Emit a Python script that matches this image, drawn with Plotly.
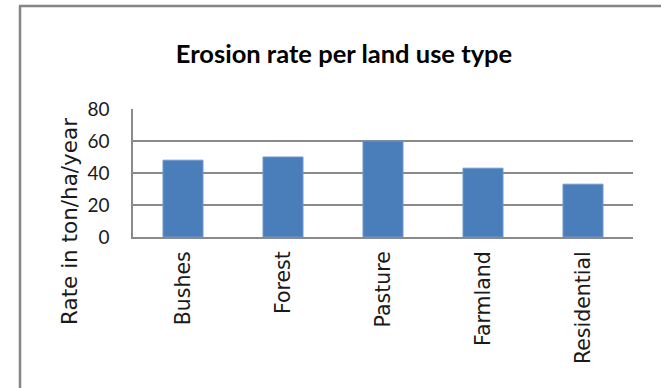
import plotly.graph_objects as go

# Erosion rate (ton/ha/year) for each land use category
land_use = ["Bushes", "Forest", "Pasture", "Farmland", "Residential"]
erosion_rate = [48, 50, 60, 43, 33]
y_ticks = [0, 20, 40, 60, 80]

W, H = 661, 388
L, R, T, B = 133, 28, 109, 151
PW, PH = W - L - R, H - T - B


def px_x(x):
    return (x - L) / PW


def px_y(y):
    return (H - B - y) / PH


GRID = "#8a8a8a"
FRAME = "#858585"

fig = go.Figure(
    go.Bar(
        x=land_use,
        y=erosion_rate,
        width=0.4,
        marker=dict(color="#4a7ebb", line=dict(color="#6f97cc", width=1)),
    )
)

fig.update_layout(
    width=W,
    height=H,
    margin=dict(l=L, r=R, t=T, b=B, pad=0),
    paper_bgcolor="white",
    plot_bgcolor="white",
    showlegend=False,
    title=dict(
        text="<b>Erosion rate per land use type</b>",
        font=dict(family="Lato", size=25.5, color="#000000"),
        xref="container",
        yref="container",
        x=344 / W,
        y=1 - 54 / H,
        xanchor="center",
        yanchor="middle",
    ),
    xaxis=dict(
        showline=True,
        linecolor=GRID,
        linewidth=2,
        showgrid=False,
        tickangle=-90,
        ticks="",
        ticklabelstandoff=4,
        tickfont=dict(family="DejaVu Sans", size=20.5, color="#1a1a1a"),
    ),
    yaxis=dict(
        range=[0, 80],
        tickvals=y_ticks,
        showline=True,
        linecolor=GRID,
        linewidth=1.5,
        showgrid=True,
        gridcolor=GRID,
        gridwidth=1.5,
        zeroline=False,
        ticks="",
        ticklabelstandoff=18,
        tickfont=dict(family="Lato", size=19, color="#1a1a1a"),
    ),
    annotations=[
        dict(
            text="Rate in ton/ha/year",
            xref="paper",
            yref="paper",
            x=px_x(69),
            y=px_y(222),
            textangle=-90,
            showarrow=False,
            xanchor="center",
            yanchor="middle",
            font=dict(family="DejaVu Sans", size=21.5, color="#1a1a1a"),
        )
    ],
    shapes=[
        # outer chart frame (left and top edges)
        dict(type="line", xref="paper", yref="paper",
             x0=px_x(20), x1=px_x(20), y0=px_y(6), y1=px_y(H + 5),
             line=dict(color=FRAME, width=2.5)),
        dict(type="line", xref="paper", yref="paper",
             x0=px_x(19), x1=px_x(W + 5), y0=px_y(6), y1=px_y(6),
             line=dict(color=FRAME, width=2.5)),
    ],
)

fig.write_html("out.html")
